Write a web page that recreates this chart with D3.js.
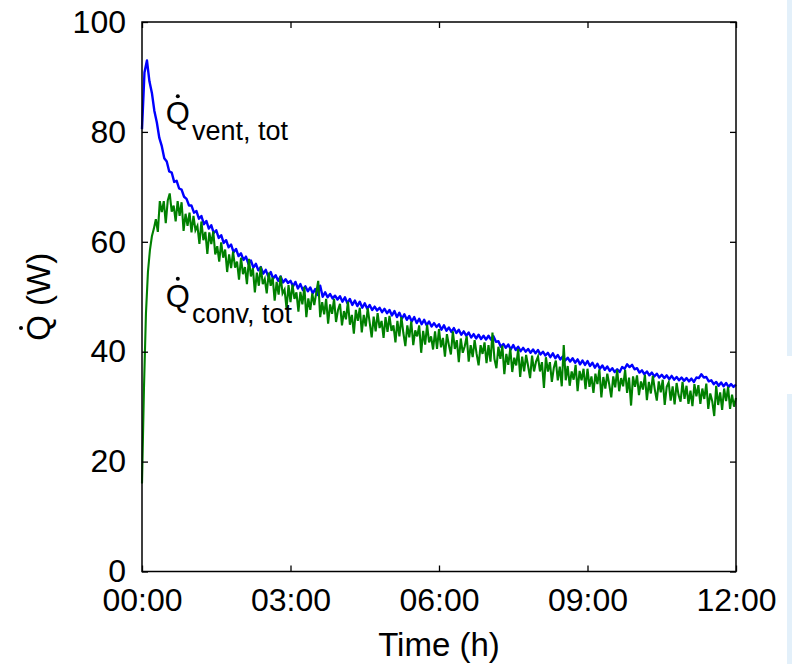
<!DOCTYPE html>
<html>
<head>
<meta charset="utf-8">
<script src="https://cdn.jsdelivr.net/npm/d3@7"></script>
<style>
  body { margin: 0; background: #fff; }
  svg text { font-family: "Liberation Sans", Arial, sans-serif; fill: #000; }
</style>
</head>
<body>
<div id="chart"></div>
<script>
// Q_vent,tot (W): una muestra cada 0.05 h, una fila por hora
const VENT_STEP = 0.05;
const ventTot = [
  80.5, 90.8, 93.0, 89.2, 87.1, 83.8, 81.7, 78.9, 77.4, 75.2, 74.6, 72.8, 72.6, 70.9, 71.1, 69.7, 69.5, 68.2, 67.8, 66.6,
  66.6, 65.3, 65.6, 64.2, 64.7, 63.2, 63.8, 62.4, 63.0, 61.6, 62.1, 60.7, 61.2, 59.8, 60.3, 59.0, 59.5, 58.1, 58.7, 57.4,
  57.9, 56.7, 57.3, 56.0, 56.6, 55.3, 56.0, 54.8, 55.4, 54.2, 54.9, 53.7, 54.5, 53.3, 53.9, 52.9, 53.7, 52.6, 53.2, 52.5,
  52.9, 51.9, 52.7, 51.5, 52.3, 51.2, 51.9, 51.0, 51.7, 50.6, 51.4, 50.3, 52.0, 50.0, 50.8, 49.9, 50.5, 49.7, 50.2, 49.5,
  50.1, 49.1, 49.9, 48.8, 49.6, 48.5, 49.3, 48.3, 49.1, 48.0, 48.8, 47.8, 48.5, 47.6, 48.2, 47.5, 48.0, 47.2, 47.8, 47.0,
  47.6, 46.6, 47.4, 46.3, 47.1, 46.0, 46.8, 45.8, 46.5, 45.5, 46.3, 45.2, 46.0, 45.0, 45.8, 44.8, 45.5, 44.6, 45.2, 44.5,
  45.0, 44.0, 44.8, 43.8, 44.4, 43.6, 44.3, 43.4, 44.0, 43.1, 43.7, 42.9, 43.5, 42.6, 43.2, 42.4, 43.1, 42.3, 42.9, 42.2,
  42.9, 42.2, 42.8, 41.8, 41.9, 40.9, 41.4, 40.7, 41.3, 40.4, 41.2, 40.3, 40.9, 40.1, 40.7, 40.0, 40.5, 39.8, 40.4, 39.7,
  40.3, 39.5, 40.0, 39.3, 39.8, 39.0, 39.7, 38.8, 39.4, 38.6, 39.1, 38.4, 38.9, 38.2, 38.8, 38.0, 38.6, 37.7, 38.4, 37.6,
  38.3, 37.4, 38.0, 37.1, 37.8, 36.9, 37.5, 36.7, 37.3, 36.5, 37.0, 36.3, 36.8, 36.3, 37.2, 36.9, 37.7, 37.2, 37.6, 36.8,
  37.0, 36.2, 36.6, 35.9, 36.4, 35.7, 36.2, 35.5, 36.0, 35.3, 35.8, 35.2, 35.7, 35.0, 35.6, 34.9, 35.4, 34.8, 35.3, 34.7,
  35.2, 34.6, 35.1, 34.5, 35.3, 35.2, 35.9, 35.3, 35.4, 34.6, 34.8, 34.1, 34.5, 33.8, 34.4, 33.7, 34.3, 33.6, 34.1, 33.6,
  34.0
];

// Q_conv,tot (W): una muestra cada 0.04 h, una fila por hora
const CONV_STEP = 0.04;
const convTot = [
  16.0, 33.5, 47.0, 54.5, 58.5, 61.0, 62.4, 64.1, 61.8, 67.4, 65.4, 67.4, 63.4, 67.5, 68.8, 65.5, 66.6, 63.7, 67.4, 64.7, 67.2, 62.0, 65.1, 62.9, 65.3,
  61.7, 64.7, 62.1, 62.9, 59.6, 63.7, 60.3, 61.8, 57.8, 61.7, 59.6, 61.9, 57.7, 59.2, 56.4, 59.9, 57.1, 58.6, 54.5, 57.7, 55.2, 58.2, 55.3, 56.4, 53.1,
  57.1, 54.1, 55.4, 52.3, 56.9, 53.7, 55.2, 50.8, 54.4, 52.0, 55.5, 52.3, 53.2, 50.6, 54.4, 52.0, 53.5, 49.3, 52.7, 50.4, 53.8, 50.6, 51.3, 47.9, 52.1,
  49.0, 52.2, 49.6, 50.8, 47.3, 50.9, 48.6, 51.8, 46.3, 49.7, 47.6, 50.6, 48.5, 50.7, 52.9, 46.3, 49.0, 46.8, 49.6, 45.1, 48.6, 46.9, 49.6, 45.4, 47.6,
  48.7, 44.8, 47.4, 45.9, 49.1, 44.9, 46.7, 43.3, 47.6, 45.6, 48.0, 43.5, 46.7, 44.6, 47.9, 45.3, 42.6, 46.4, 43.7, 47.0, 44.3, 45.6, 42.5, 46.3, 43.6,
  46.5, 43.8, 44.8, 41.7, 45.6, 42.8, 46.3, 43.4, 41.0, 44.8, 42.6, 45.5, 41.2, 43.9, 42.8, 44.8, 39.8, 43.8, 41.3, 44.9, 41.7, 42.8, 40.4, 43.7, 40.5,
  44.1, 40.8, 42.5, 39.1, 43.2, 41.2, 39.5, 43.7, 40.5, 42.1, 38.1, 42.4, 39.8, 41.0, 42.8, 38.2, 41.2, 39.0, 42.1, 39.6, 37.5, 41.2, 39.6, 41.7, 37.9,
  41.2, 38.2, 43.5, 38.7, 37.0, 40.9, 38.7, 41.1, 35.9, 39.6, 37.6, 40.6, 36.3, 38.9, 37.5, 40.5, 35.4, 39.1, 36.4, 39.4, 37.4, 35.2, 39.3, 36.4, 38.2,
  39.1, 36.4, 38.1, 33.4, 39.0, 36.4, 38.1, 34.5, 37.1, 38.4, 34.8, 37.3, 33.7, 41.2, 34.8, 37.4, 33.8, 36.4, 34.9, 37.6, 32.8, 36.5, 34.8, 36.9, 33.2,
  36.9, 33.6, 35.5, 32.5, 36.0, 34.1, 36.8, 31.7, 35.4, 33.3, 36.0, 34.0, 31.7, 35.5, 33.5, 36.7, 32.8, 35.2, 33.7, 36.7, 32.5, 35.3, 30.2, 35.5, 33.6,
  35.7, 32.1, 34.6, 33.1, 35.8, 31.2, 34.5, 32.4, 35.6, 33.1, 31.1, 34.6, 32.6, 34.9, 30.3, 33.6, 34.4, 31.1, 33.7, 30.4, 34.3, 32.1, 30.9, 34.5, 31.4,
  33.8, 30.5, 32.9, 30.1, 34.1, 31.9, 33.9, 30.5, 33.3, 31.4, 34.2, 29.6, 32.4, 31.0, 28.3, 33.8, 30.3, 32.6, 29.4, 33.3, 31.0, 33.6, 29.6, 32.2, 30.0,
  31.6
];

// Ejes
const xTicks = [0, 3, 6, 9, 12];
const xTickLabels = ['00:00', '03:00', '06:00', '09:00', '12:00'];
const yTicks = [0, 20, 40, 60, 80, 100];

const COLOR_VENT = '#0000ff',
      COLOR_CONV = '#008000';

let margin = {top: 22, right: 56, bottom: 92.5, left: 142},
    width = 792 - margin.left - margin.right,
    height = 664 - margin.top - margin.bottom;

let root = d3.select('#chart')
    .append('svg')
        .attr('width', 792)
        .attr('height', 664);

// franja azul claro del borde derecho
root.append('rect').attr('x', 787).attr('y', 0).attr('width', 5).attr('height', 356).attr('fill', '#e3f0fa');
root.append('rect').attr('x', 787).attr('y', 394).attr('width', 5).attr('height', 270).attr('fill', '#e3f0fa');

let svg = root.append('g')
    .attr('transform', 'translate(' + margin.left + ',' + margin.top + ')');

let x = d3.scaleLinear().domain([0, 12]).range([0, width]);
let y = d3.scaleLinear().domain([0, 100]).range([height, 0]);

// Líneas
function lineFor(step) {
    return d3.line()
        .x(function(d, i) { return x(i * step); })
        .y(function(d) { return y(d); });
}

svg.append('path')
    .datum(ventTot)
    .attr('fill', 'none')
    .attr('stroke', COLOR_VENT)
    .attr('stroke-width', 2.4)
    .attr('stroke-linejoin', 'round')
    .attr('d', lineFor(VENT_STEP));

svg.append('path')
    .datum(convTot)
    .attr('fill', 'none')
    .attr('stroke', COLOR_CONV)
    .attr('stroke-width', 2.1)
    .attr('stroke-linejoin', 'miter')
    .attr('d', lineFor(CONV_STEP));

// Ejes con ticks hacia dentro
let axisStyle = function(g) {
    g.select('.domain').remove();
    g.selectAll('.tick line').attr('stroke', '#000').attr('stroke-width', 1.3);
    g.selectAll('.tick text').style('font-size', '32px').attr('fill', '#000');
};

svg.append('g')
    .attr('transform', 'translate(0,' + height + ')')
    .call(d3.axisBottom(x).tickValues(xTicks).tickSize(-6).tickPadding(17)
        .tickFormat(function(d, i) { return xTickLabels[i]; }))
    .call(axisStyle)
    .call(function(g) { g.selectAll('.tick text').attr('dy', '0.71em'); });

svg.append('g')
    .call(d3.axisTop(x).tickValues(xTicks).tickSize(-6).tickFormat(''))
    .call(axisStyle);

svg.append('g')
    .call(d3.axisLeft(y).tickValues(yTicks).tickSize(-6).tickPadding(16))
    .call(axisStyle);

svg.append('g')
    .attr('transform', 'translate(' + width + ',0)')
    .call(d3.axisRight(y).tickValues(yTicks).tickSize(-6).tickFormat(''))
    .call(axisStyle);

// Marco
svg.append('rect')
    .attr('x', 0).attr('y', 0)
    .attr('width', width).attr('height', height)
    .attr('fill', 'none')
    .attr('stroke', '#000')
    .attr('stroke-width', 1.5);

// Títulos de ejes
root.append('text')
    .attr('x', margin.left + width / 2)
    .attr('y', 656)
    .attr('text-anchor', 'middle')
    .style('font-size', '33px')
    .text('Time (h)');

let yLabG = root.append('g')
    .attr('transform', 'translate(50,' + (margin.top + height / 2) + ') rotate(-90)');
let yLab = yLabG.append('text')
    .attr('text-anchor', 'middle')
    .style('font-size', '33px');
let qSpan = yLab.append('tspan').text('Q');
yLab.append('tspan').text(' (W)');

// punto de derivada sobre la Q del eje y
let totalLen = yLab.node().getComputedTextLength();
let qLen = qSpan.node().getComputedTextLength();
yLabG.append('circle')
    .attr('cx', -totalLen / 2 + qLen / 2)
    .attr('cy', -29)
    .attr('r', 2)
    .attr('fill', '#000');

// Etiquetas de las series
function seriesLabel(t, v, sub) {
    let g = svg.append('g')
        .attr('transform', 'translate(' + x(t) + ',' + y(v) + ')');
    let txt = g.append('text').style('font-size', '31px');
    let q = txt.append('tspan').text('Q');
    txt.append('tspan')
        .attr('dy', 16)
        .attr('dx', 2)
        .style('font-size', '27px')
        .text(sub);
    g.append('circle')
        .attr('cx', q.node().getComputedTextLength() / 2)
        .attr('cy', -28)
        .attr('r', 2)
        .attr('fill', '#000');
}

seriesLabel(0.48, 81.4, 'vent, tot');
seriesLabel(0.48, 48.2, 'conv, tot');
</script>
</body>
</html>
